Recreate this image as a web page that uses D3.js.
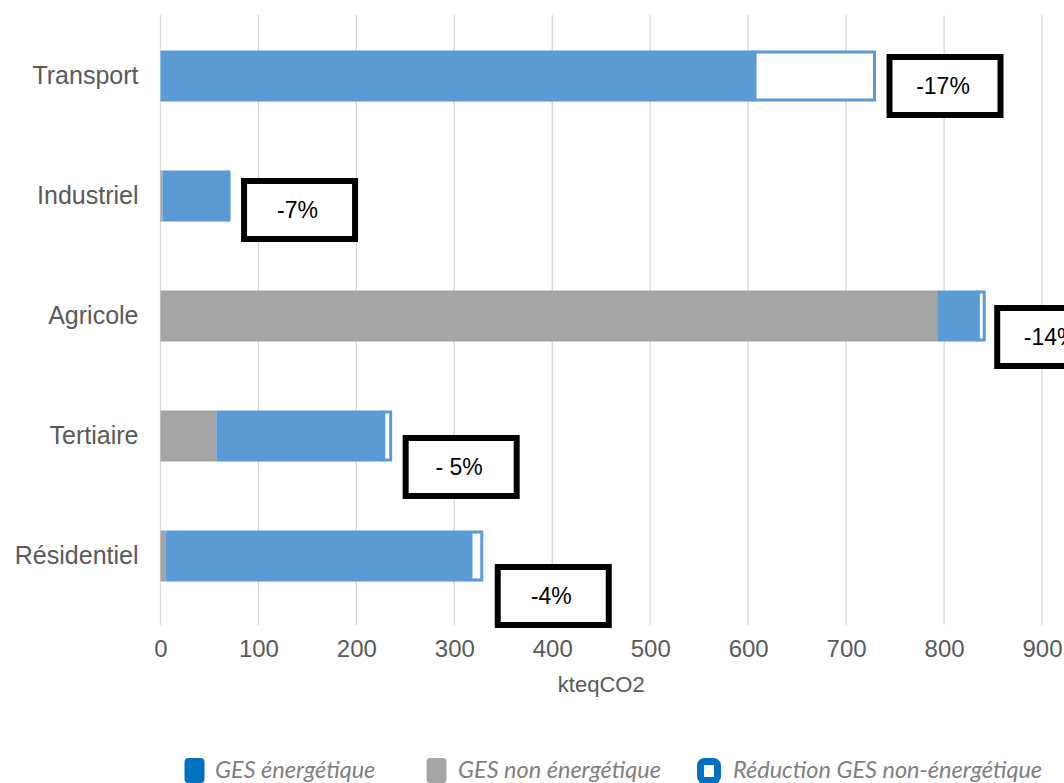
<!DOCTYPE html>
<html>
<head>
<meta charset="utf-8">
<script src="https://cdn.jsdelivr.net/npm/d3@7"></script>
<style>
  html, body { margin: 0; padding: 0; background: #fff; }
  svg { display: block; }
</style>
</head>
<body>
<svg id="chart" width="1064" height="783"></svg>
<script>
// Emissions by sector (kteqCO2), stacked: non-energy, energy, then reduction
const categories = ["Transport", "Industriel", "Agricole", "Tertiaire", "Résidentiel"];
const gesNonEnergetique = [0, 2, 793, 57, 5];
const gesEnergetique = [607, 67, 42, 171, 312];
const reductionGes = [122, 1, 6, 7, 11];
const reductionLabels = ["-17%", "-7%", "-14%", "- 5%", "-4%"];
const xTickValues = [0, 100, 200, 300, 400, 500, 600, 700, 800, 900];
const legendLabels = ["GES énergétique", "GES non énergétique", "Réduction GES non-énergétique"];

// Callout box placement (pixels from bar end / band centre)
const calloutDx = [12, 12, 10, 12, 13];
const calloutDy = [-22, -18, -11, -1, 8];

const svg = d3.select("#chart");
const FONT = "'Liberation Sans', Arial, sans-serif";

const x = d3.scaleLinear().domain([0, 900]).range([160.5, 1042]);
const y = d3.scaleBand().domain(categories).range([16, 616])
  .paddingInner(0.575).paddingOuter(0.2875);

const textGrey = "#595959";
const blue = "#5B9BD5";
const grey = "#A5A5A5";
const legendBlue = "#0070C0";

// vertical gridlines
svg.append("g").selectAll("line").data(xTickValues).join("line")
  .attr("x1", d => x(d)).attr("x2", d => x(d))
  .attr("y1", 15).attr("y2", 625)
  .attr("stroke", "#D9D9D9").attr("stroke-width", 1.3);

// x axis labels
const xAxis = d3.axisBottom(x).tickValues(xTickValues).tickSize(0).tickPadding(0);
const gx = svg.append("g").attr("transform", "translate(0,649)").call(xAxis);
gx.select(".domain").remove();
gx.selectAll("text")
  .attr("fill", textGrey)
  .attr("y", 0)
  .attr("dy", "0.35em")
  .style("font-family", FONT)
  .style("font-size", "24px");

svg.append("text")
  .attr("x", (x(0) + x(900)) / 2).attr("y", 684)
  .attr("dy", "0.35em")
  .attr("text-anchor", "middle")
  .attr("fill", textGrey)
  .style("font-family", FONT)
  .style("font-size", "22px")
  .text("kteqCO2");

// category labels
const yAxis = d3.axisLeft(y).tickSize(0).tickPadding(22);
const gy = svg.append("g").attr("transform", `translate(${x(0)},0)`).call(yAxis);
gy.select(".domain").remove();
gy.selectAll("text")
  .attr("fill", textGrey)
  .style("font-family", FONT)
  .style("font-size", "25px");

// stacked bars
const rows = categories.map((c, i) => ({
  cat: c,
  non: gesNonEnergetique[i],
  en: gesEnergetique[i],
  red: reductionGes[i],
  label: reductionLabels[i],
  dx: calloutDx[i],
  dy: calloutDy[i]
}));

const bars = svg.append("g");
bars.selectAll("rect.non").data(rows).join("rect").attr("class", "non")
  .attr("x", d => x(0)).attr("y", d => y(d.cat))
  .attr("width", d => x(d.non) - x(0)).attr("height", y.bandwidth())
  .attr("fill", grey);

bars.selectAll("rect.en").data(rows).join("rect").attr("class", "en")
  .attr("x", d => x(d.non)).attr("y", d => y(d.cat))
  .attr("width", d => x(d.non + d.en) - x(d.non)).attr("height", y.bandwidth())
  .attr("fill", blue);

bars.selectAll("rect.red").data(rows).join("rect").attr("class", "red")
  .attr("x", d => x(d.non + d.en)).attr("y", d => y(d.cat) + 1.5)
  .attr("width", d => x(d.non + d.en + d.red) - x(d.non + d.en)).attr("height", y.bandwidth() - 3)
  .attr("fill", "#fff").attr("stroke", blue).attr("stroke-width", 3);

// percentage callouts
const boxW = 111, boxH = 58, boxStroke = 6;
const callouts = svg.append("g");
const cg = callouts.selectAll("g").data(rows).join("g")
  .attr("transform", d => {
    const bx = x(d.non + d.en + d.red) + d.dx + boxStroke / 2;
    const by = y(d.cat) + y.bandwidth() / 2 + d.dy + boxStroke / 2;
    return `translate(${bx},${by})`;
  });
cg.append("rect")
  .attr("width", boxW).attr("height", boxH)
  .attr("fill", "#fff").attr("stroke", "#000").attr("stroke-width", boxStroke);
cg.append("text")
  .attr("x", boxW / 2 - 2).attr("y", boxH / 2)
  .attr("dy", "0.35em")
  .attr("text-anchor", "middle")
  .attr("fill", "#000")
  .style("font-family", FONT)
  .style("font-size", "23px")
  .text(d => d.label);

// legend
const legendMarkerX = [184.5, 426.5, 697];
const legendTextX = [215, 458, 733];
const legend = svg.append("g").attr("transform", "translate(0,770)");
const lg = legend.selectAll("g").data(legendLabels).join("g");
lg.append("rect")
  .attr("x", (d, i) => i === 2 ? legendMarkerX[i] + 3.5 : legendMarkerX[i])
  .attr("y", (d, i) => i === 2 ? -8.5 : -12)
  .attr("width", (d, i) => i === 2 ? 17 : 20)
  .attr("height", (d, i) => i === 2 ? 19 : 25)
  .attr("rx", 4)
  .attr("fill", (d, i) => i === 2 ? "#fff" : (i === 0 ? legendBlue : grey))
  .attr("stroke", (d, i) => i === 2 ? legendBlue : "none")
  .attr("stroke-width", 7);
lg.append("text")
  .attr("x", (d, i) => legendTextX[i])
  .attr("y", 0).attr("dy", "0.35em")
  .attr("fill", "#7F7F7F")
  .style("font-family", "Lato, sans-serif")
  .style("font-style", "italic")
  .style("font-size", "23.5px")
  .text(d => d);
</script>
</body>
</html>
